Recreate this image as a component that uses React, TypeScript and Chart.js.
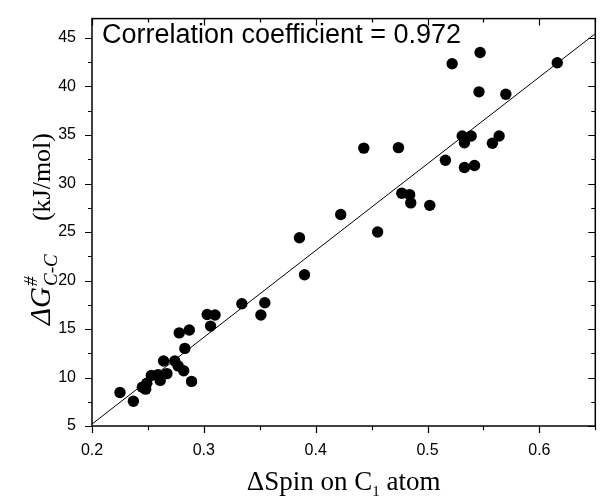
import { useEffect, useRef } from 'react';
import { Chart, registerables } from 'chart.js';

Chart.register(...registerables);

// ΔSpin on C1 atom
const spinDiff = [
  0.225, 0.237, 0.245, 0.248, 0.249, 0.253, 0.259, 0.261, 0.267, 0.264,
  0.274, 0.277, 0.282, 0.278, 0.287, 0.283, 0.289, 0.303, 0.310, 0.306,
  0.334, 0.351, 0.3545,
  0.3855, 0.390, 0.4224, 0.4554, 0.443, 0.474, 0.477, 0.484, 0.485, 0.502,
  0.516, 0.531, 0.539, 0.533, 0.558, 0.564, 0.533, 0.542, 0.522, 0.547,
  0.546, 0.570, 0.616,
];
// ΔG#C-C (kJ/mol)
const barrier = [
  8.45, 7.55, 9.0, 8.8, 9.4, 10.2, 10.3, 9.7, 10.4, 11.7,
  11.7, 11.2, 10.7, 14.6, 14.9, 13.0, 9.6, 16.5, 16.45, 15.3,
  17.6, 16.45, 17.7,
  24.4, 20.6, 26.8, 25.0, 33.65, 33.7, 29.0, 28.85, 28.0, 27.75,
  32.4, 34.9, 34.9, 34.2, 34.15, 34.9, 31.65, 31.85, 42.35, 43.5,
  39.45, 39.2, 42.45,
];
// linear fit end points
const fitX = [0.2, 0.65];
const fitY = [5.2, 45.45];

const xMajorTicks = [0.2, 0.3, 0.4, 0.5, 0.6];
const xMinorTicks = [0.25, 0.35, 0.45, 0.55, 0.65];
const yMajorTicks = [5, 10, 15, 20, 25, 30, 35, 40, 45];
const yMinorTicks = [7.5, 12.5, 17.5, 22.5, 27.5, 32.5, 37.5, 42.5];

const correlationText = 'Correlation coefficient = 0.972';

const SANS = '"Liberation Sans", Arial, sans-serif';
const SERIF = '"Liberation Serif", "Times New Roman", serif';

const decorPlugin = {
  id: 'decor',
  afterDraw(chart: any) {
    const ctx = chart.ctx as CanvasRenderingContext2D;
    const area = chart.chartArea;
    const xs = chart.scales.x;
    const ys = chart.scales.y;
    ctx.save();
    ctx.strokeStyle = '#000';
    ctx.lineWidth = 1.5;
    ctx.strokeRect(area.left, area.top, area.right - area.left, area.bottom - area.top);

    ctx.lineWidth = 1.2;
    const majorLen = 7;
    const minorLen = 4;
    const drawX = (vals: number[], len: number) => {
      vals.forEach((v) => {
        const px = Math.round(xs.getPixelForValue(v)) + 0.5;
        ctx.beginPath();
        ctx.moveTo(px, area.bottom);
        ctx.lineTo(px, area.bottom + len);
        ctx.moveTo(px, area.top);
        ctx.lineTo(px, area.top + len);
        ctx.stroke();
      });
    };
    const drawY = (vals: number[], len: number) => {
      vals.forEach((v) => {
        const py = Math.round(ys.getPixelForValue(v)) + 0.5;
        ctx.beginPath();
        ctx.moveTo(area.left, py);
        ctx.lineTo(area.left - len, py);
        ctx.moveTo(area.right, py);
        ctx.lineTo(area.right - len, py);
        ctx.stroke();
      });
    };
    drawX(xMajorTicks, majorLen);
    drawX(xMinorTicks, minorLen);
    drawY(yMajorTicks, majorLen);
    drawY(yMinorTicks, minorLen);

    // correlation label
    ctx.fillStyle = '#000';
    ctx.textBaseline = 'alphabetic';
    ctx.textAlign = 'left';
    ctx.font = `27px ${SANS}`;
    ctx.fillText(correlationText, area.left + 10, 43);

    // x title: ΔSpin on C1 atom
    const big = 27;
    const small = 15;
    const p1 = 'ΔSpin on C';
    const p2 = '1';
    const p3 = ' atom';
    ctx.font = `${big}px ${SERIF}`;
    const w1 = ctx.measureText(p1).width;
    const w3 = ctx.measureText(p3).width;
    ctx.font = `${small}px ${SERIF}`;
    const w2 = ctx.measureText(p2).width;
    const total = w1 + w2 + w3;
    const x0 = (area.left + area.right) / 2 - total / 2;
    const base = 490;
    ctx.font = `${big}px ${SERIF}`;
    ctx.fillText(p1, x0, base);
    ctx.font = `${small}px ${SERIF}`;
    ctx.fillText(p2, x0 + w1, base + 6);
    ctx.font = `${big}px ${SERIF}`;
    ctx.fillText(p3, x0 + w1 + w2, base);

    // y title: ΔG#C-C (kJ/mol)
    ctx.translate(50, 0);
    ctx.rotate(-Math.PI / 2);
    const startY = 325;
    ctx.font = `italic 29px ${SERIF}`;
    const v1 = ctx.measureText('ΔG').width;
    ctx.fillText('ΔG', -startY, 0);
    ctx.font = `italic 19px ${SERIF}`;
    ctx.fillText('#', -startY + v1 + 1, -13);
    ctx.fillText('C-C', -startY + v1 + 1, 7);
    ctx.font = `26px ${SERIF}`;
    const v4 = ctx.measureText('(kJ/mol)').width;
    ctx.fillText('(kJ/mol)', -(133 + v4), 0);
    ctx.restore();
  },
};

export default function App() {
  const ref = useRef<HTMLCanvasElement | null>(null);
  useEffect(() => {
    document.body.style.margin = '0';
    const canvas = ref.current;
    if (!canvas) return;
    const points = spinDiff.map((x, i) => ({ x, y: barrier[i] }));
    const fit = fitX.map((x, i) => ({ x, y: fitY[i] }));
    const chart = new Chart(canvas, {
      type: 'scatter',
      data: {
        datasets: [
          {
            data: fit,
            showLine: true,
            borderColor: '#000',
            borderWidth: 1,
            pointRadius: 0,
            fill: false,
          } as any,
          {
            data: points,
            backgroundColor: '#000',
            borderWidth: 0,
            pointRadius: 5.7,
            pointHoverRadius: 5.7,
          },
        ],
      },
      options: {
        animation: false,
        responsive: false,
        devicePixelRatio: 1,
        layout: { padding: { top: 14, right: 1, left: 0, bottom: 0 } },
        plugins: { legend: { display: false }, tooltip: { enabled: false } },
        events: [],
        scales: {
          x: {
            type: 'linear',
            min: 0.2,
            max: 0.65,
            afterBuildTicks: (s: any) => {
              s.ticks = xMajorTicks.map((v) => ({ value: v }));
            },
            afterFit: (s: any) => {
              s.height = 71;
            },
            grid: {
              display: true,
              drawOnChartArea: false,
              drawTicks: true,
              tickLength: 7,
              tickColor: 'rgba(0,0,0,0)',
            },
            border: { display: false },
            ticks: {
              color: '#000',
              font: { family: SANS, size: 16 },
              padding: 8,
              maxRotation: 0,
              callback: (v: any) => String(Number(v).toFixed(1)),
            },
          },
          y: {
            type: 'linear',
            min: 5,
            max: 47,
            afterBuildTicks: (s: any) => {
              s.ticks = yMajorTicks.map((v) => ({ value: v }));
            },
            afterFit: (s: any) => {
              s.width = 92;
            },
            grid: {
              display: true,
              drawOnChartArea: false,
              drawTicks: true,
              tickLength: 7,
              tickColor: 'rgba(0,0,0,0)',
            },
            border: { display: false },
            ticks: {
              color: '#000',
              font: { family: SANS, size: 16 },
              padding: 9,
              callback: (v: any) => String(v),
            },
          },
        },
      },
      plugins: [decorPlugin],
    });
    return () => chart.destroy();
  }, []);
  return (
    <div style={{ width: 601, height: 497, position: 'relative', background: '#fff' }}>
      <canvas ref={ref} width={601} height={497} style={{ display: 'block' }} />
    </div>
  );
}
